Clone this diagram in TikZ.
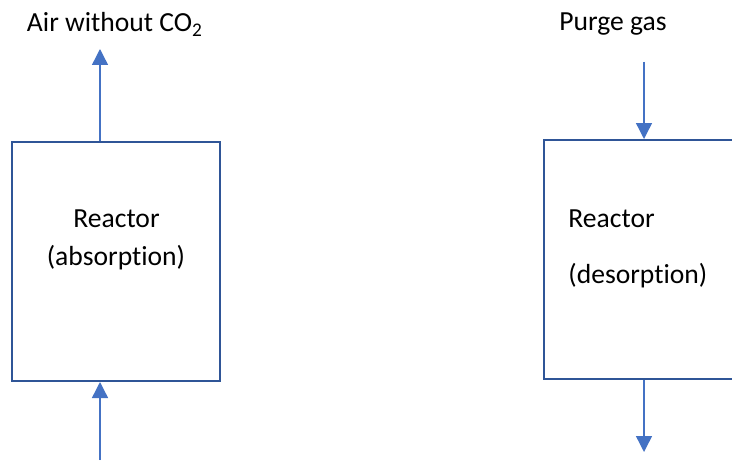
\documentclass[tikz,border=0pt]{standalone}
\usepackage{fontspec}
\setmainfont{Carlito}[Ligatures=NoCommon]
\usepackage{tikz}
\usetikzlibrary{
  arrows.meta,              % Triangle arrow tips
  positioning               % relative placement
}
\definecolor{boxblue}{HTML}{2F5597}
\definecolor{flowblue}{HTML}{4472C4}

\begin{document}
\begin{tikzpicture}[x=0.5pt, y=-0.5pt, >={Triangle[width=8pt, length=8pt]},
    reactor/.style={draw=boxblue, line width=1pt, minimum width=104pt, minimum height=119.5pt, inner sep=0pt},
    flow/.style={->, draw=flowblue, fill=flowblue, line width=0.7pt},
    label/.style={anchor=base, inner sep=0pt, font=\fontsize{13.8pt}{16.5pt}\selectfont}]
    % picture frame (the right reactor is cut by it)
    \useasboundingbox (0,0) rectangle (732,460);
    \clip (0,0) rectangle (732,460);

    % --- absorption reactor ---
    \node[reactor] (absorber) at (116,261.5) {};
    \node[label] (absname) at (116.5,227) {Reactor};
    \node[label] (absmode) at (116,265) {(absorption)};
    \node[label] (airlabel) at (115,32) {Air without CO\textsubscript{2}};
    \coordinate (airout) at (100,49);
    \coordinate (airin) at (100,460);
    \draw[flow] (absorber.north -| airout) -- (airout);
    \draw[flow] (airin) -- (airin |- absorber.south);

    % --- desorption reactor ---
    \node[reactor] (desorber) at (648,259.5) {};
    \node[label, anchor=base west] (desname) at (568,227) {Reactor};
    \node[label, anchor=base west] (desmode) at (568,283) {(desorption)};
    \node[label] (purgelabel) at (613,31) {Purge gas};
    \coordinate (purgein) at (644,62);
    \coordinate (purgeout) at (644,452);
    \draw[flow] (purgein) -- (purgein |- desorber.north);
    \draw[flow] (purgeout |- desorber.south) -- (purgeout);
\end{tikzpicture}
\end{document}
